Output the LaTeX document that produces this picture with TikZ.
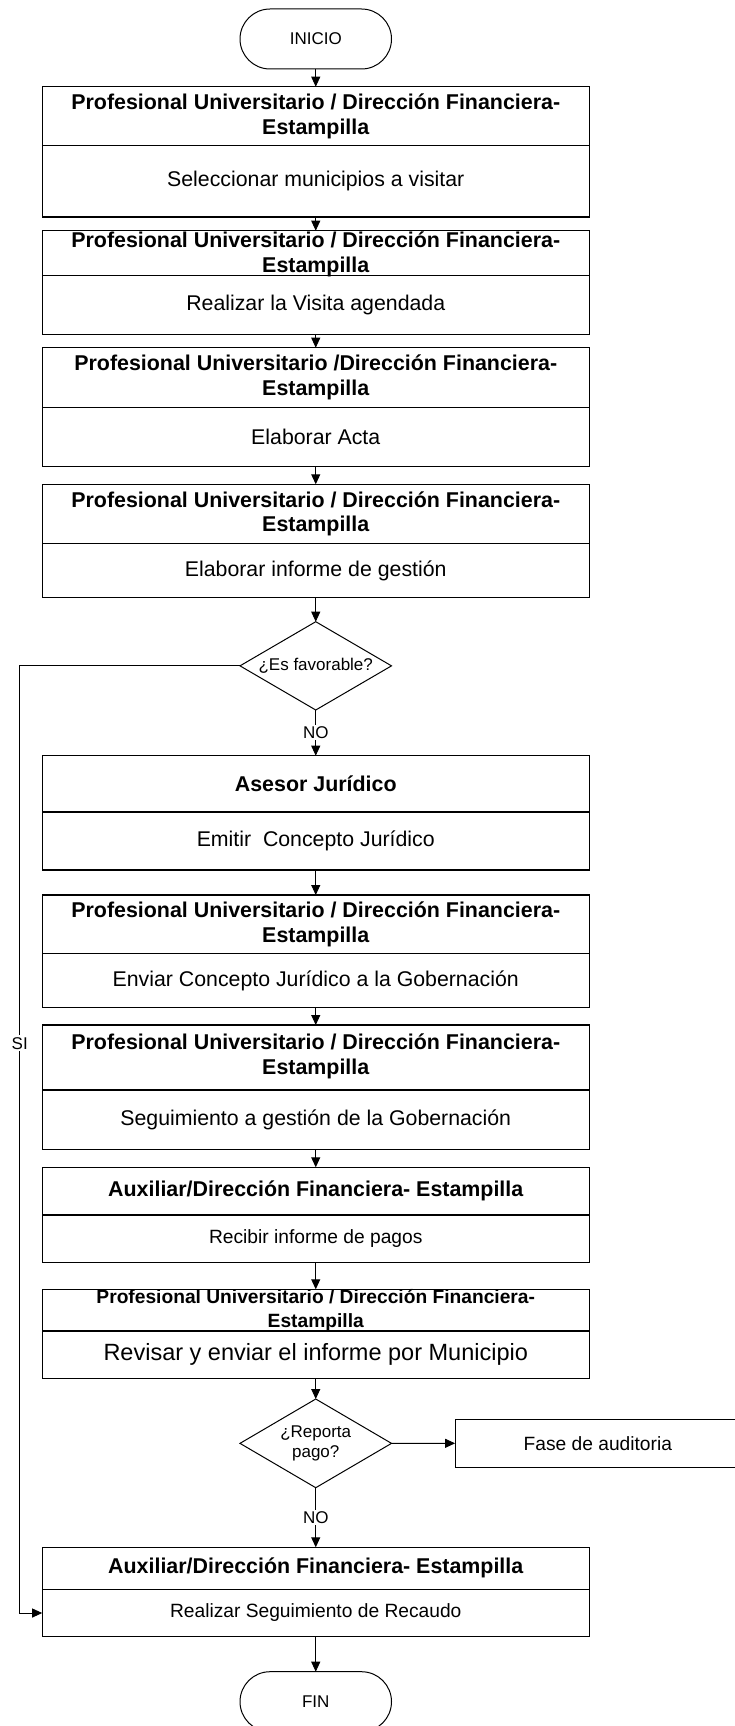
\documentclass[tikz,border=0pt]{standalone}
\usepackage{fontspec}
\setmainfont{Liberation Sans}
\usetikzlibrary{arrows.meta,shapes.geometric}
\newcommand\fHead{\fontsize{21.4}{24.7}\selectfont\bfseries}
\newcommand\fBody{\fontsize{21.3}{24.5}\selectfont}
\newcommand\fSmall{\fontsize{19.2}{22}\selectfont}
\newcommand\fSmallHead{\fontsize{19.2}{24}\selectfont\bfseries}
\newcommand\fBig{\fontsize{23.5}{27}\selectfont}
\newcommand\fTerm{\fontsize{17}{20.5}\selectfont}
\begin{document}
\begin{tikzpicture}[x=1pt,y=-1pt,
 frame/.style={draw, line width=1.2pt, minimum width=547.1pt, inner sep=0pt, outer sep=0pt},
 term/.style={draw, line width=1pt, rounded corners=30pt, minimum width=151.5pt, minimum height=60pt, inner sep=0pt, outer sep=0pt, font=\fTerm},
 dec/.style={draw, diamond, line width=1pt, minimum width=151.5pt, inner sep=0pt, outer sep=0pt},
 txt/.style={inner sep=0pt, align=center},
 lbl/.style={fill=white, inner sep=1.5pt, font=\fTerm},
 arr/.style={-{Triangle[length=10pt,width=9pt]}, line width=0.9pt},
 conn/.style={line width=0.9pt}]

\clip (0,0) rectangle (735,1726);

\node[term] (ini) at (315.75,39) {INICIO};

% box 1
\node[frame, minimum height=59pt] (h1) at (315.75,116.2) {};
\node[frame, minimum height=71.3pt, anchor=north] (b1) at (h1.south) {};
\node[txt, font=\fHead] (th1) at (h1.center) {Profesional Universitario / Dirección Financiera-\\Estampilla};
\node[txt, font=\fBody] (tb1) at (b1.center) {Seleccionar municipios a visitar};

% box 2
\node[frame, minimum height=45pt] (h2) at (315.75,253.2) {};
\node[frame, minimum height=59pt, anchor=north] (b2) at (h2.south) {};
\node[txt, font=\fHead] (th2) at (315.75,254.5) {Profesional Universitario / Dirección Financiera-\\Estampilla};
\node[txt, font=\fBody] (tb2) at (b2.center) {Realizar la Visita agendada};

% box 3
\node[frame, minimum height=59.6pt] (h3) at (315.75,377.5) {};
\node[frame, minimum height=59pt, anchor=north] (b3) at (h3.south) {};
\node[txt, font=\fHead] (th3) at (h3.center) {Profesional Universitario /Dirección Financiera-\\Estampilla};
\node[txt, font=\fBody] (tb3) at (b3.center) {Elaborar Acta};

% box 4
\node[frame, minimum height=59.4pt] (h4) at (315.75,514) {};
\node[frame, minimum height=53.6pt, anchor=north] (b4) at (h4.south) {};
\node[txt, font=\fHead] (th4) at (h4.center) {Profesional Universitario / Dirección Financiera-\\Estampilla};
\node[txt, font=\fBody] (tb4) at (b4.center) {Elaborar informe de gestión};

% decision 1
\node[dec, minimum height=88.3pt] (d1) at (315.75,665.85) {};
\node[txt, font=\fTerm] (td1) at (d1.center) {¿Es favorable?};

% box 5
\node[frame, minimum height=56.3pt] (h5) at (315.75,783.85) {};
\node[frame, minimum height=58pt, anchor=north] (b5) at (h5.south) {};
\node[txt, font=\fHead] (th5) at (h5.center) {Asesor Jurídico};
\node[txt, font=\fBody] (tb5) at (b5.center) {Emitir\ \ Concepto Jurídico};

% box 6
\node[frame, minimum height=58.3pt] (h6) at (315.75,924.15) {};
\node[frame, minimum height=54.4pt, anchor=north] (b6) at (h6.south) {};
\node[txt, font=\fHead] (th6) at (h6.center) {Profesional Universitario / Dirección Financiera-\\Estampilla};
\node[txt, font=\fBody] (tb6) at (b6.center) {Enviar Concepto Jurídico a la Gobernación};

% box 7
\node[frame, minimum height=65pt] (h7) at (315.75,1057.5) {};
\node[frame, minimum height=59.3pt, anchor=north] (b7) at (h7.south) {};
\node[txt, font=\fHead] (th7) at (315.75,1056.7) {Profesional Universitario / Dirección Financiera-\\Estampilla};
\node[txt, font=\fBody] (tb7) at (b7.center) {Seguimiento a gestión de la Gobernación};

% box 8
\node[frame, minimum height=47.7pt] (h8) at (315.75,1191.15) {};
\node[frame, minimum height=47.3pt, anchor=north] (b8) at (h8.south) {};
\node[txt, font=\fHead] (th8) at (h8.center) {Auxiliar/Dirección Financiera- Estampilla};
\node[txt, font=\fSmall] (tb8) at (b8.center) {Recibir informe de pagos};

% box 9
\node[frame, minimum height=41.7pt] (h9) at (315.75,1310.15) {};
\node[frame, minimum height=47.3pt, anchor=north] (b9) at (h9.south) {};
\node[txt, font=\fSmallHead] (th9) at (315.75,1310.2) {Profesional Universitario / Dirección Financiera-\\Estampilla};
\node[txt, font=\fBig] (tb9) at (b9.center) {Revisar y enviar el informe por Municipio};

% decision 2
\node[dec, minimum height=88.7pt] (d2) at (315.75,1443.35) {};
\node[txt, font=\fTerm] (td2) at (d2.center) {¿Reporta\\pago?};

% fase
\node[draw, line width=1.2pt, minimum width=284.3pt, minimum height=48pt, inner sep=0pt, font=\fSmall] (fa) at (597.85,1443.3) {Fase de auditoria};

% box 10
\node[frame, minimum height=42pt] (h10) at (315.75,1568.3) {};
\node[frame, minimum height=47.4pt, anchor=north] (b10) at (h10.south) {};
\node[txt, font=\fHead] (th10) at (h10.center) {Auxiliar/Dirección Financiera- Estampilla};
\node[txt, font=\fSmall] (tb10) at (b10.center) {Realizar Seguimiento de Recaudo};

\node[term] (fin) at (315.75,1701.7) {FIN};

% connectors
\draw[arr] (ini.south) -- (h1.north);
\draw[arr] (b1.south) -- (h2.north);
\draw[arr] (b2.south) -- (h3.north);
\draw[arr] (b3.south) -- (h4.north);
\draw[arr] (b4.south) -- (d1.north);
\draw[arr] (d1.south) -- node[lbl] (no1) {NO} (h5.north);
\draw[arr] (b5.south) -- (h6.north);
\draw[arr] (b6.south) -- (h7.north);
\draw[arr] (b7.south) -- (h8.north);
\draw[arr] (b8.south) -- (h9.north);
\draw[arr] (b9.south) -- (d2.north);
\draw[arr] (d2.east) -- (fa.west);
\draw[arr] (d2.south) -- node[lbl] (no2) {NO} (h10.north);
\draw[arr] (b10.south) -- (fin.north);
\coordinate (lc) at (19.7,665.85);
\draw[arr] (d1.west) -- (lc) |- (b10.west);
\node[lbl, inner sep=2pt] (si) at (19.7,1043.3) {SI};
\end{tikzpicture}
\end{document}
